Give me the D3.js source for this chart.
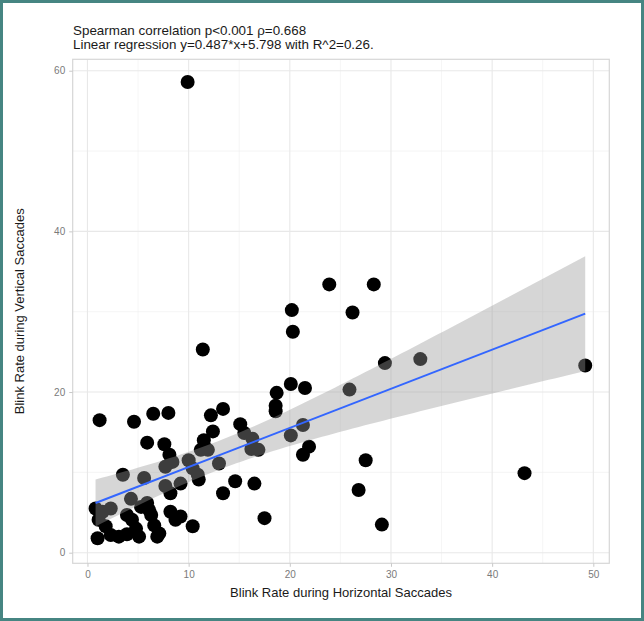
<!DOCTYPE html>
<html>
<head>
<meta charset="UTF-8">
<title>Blink rate scatter</title>
<script src="https://cdn.jsdelivr.net/npm/d3@7"></script>
<style>
  body { margin: 0; background: #fff; }
  text { font-family: "Liberation Sans", Arial, sans-serif; }
</style>
</head>
<body>
<script>

// blink rate per subject
var horizRate = [
  9.9, 23.9, 28.3, 20.2, 26.2, 20.3, 29.4, 32.9, 49.2, 20.1,
  21.5, 25.9, 18.7, 18.6, 18.6, 21.3, 20.1, 21.9, 21.3, 27.5,
  43.2, 16.5, 26.8, 17.5, 29.1, 14.6,
  12.2, 13.4, 12.4, 11.5, 15.1, 15.5, 16.3, 16.2, 16.9, 11.9,
  13.0, 11.2, 11.4, 10.9, 11.0, 13.4, 10.4,
  6.5, 8.0, 5.9, 7.6, 8.1, 8.4, 7.7, 10.0, 10.4, 5.6,
  9.2, 8.2, 5.9, 6.3, 8.2, 8.7, 9.2, 6.6, 6.9, 7.7,
  1.2, 4.6, 3.5, 4.3, 0.8, 2.3, 1.5, 5.3, 6.1, 3.9,
  4.4, 1.1, 1.8, 1.0, 2.3, 3.1, 3.9, 4.8, 5.1, 7.1
];
var vertRate = [
  58.6, 33.4, 33.4, 30.2, 29.9, 27.5, 23.6, 24.1, 23.3, 21.0,
  20.5, 20.3, 19.9, 18.3, 17.6, 15.9, 14.6, 13.2, 12.2, 11.5,
  9.9, 8.6, 7.8, 4.3, 3.5, 8.9,
  17.1, 17.9, 15.1, 14.0, 16.0, 14.9, 14.2, 12.9, 12.8, 12.8,
  11.1, 12.8, 25.3, 9.7, 9.1, 7.4, 3.3,
  17.3, 17.4, 13.7, 13.5, 12.2, 11.3, 10.7, 11.5, 10.5, 9.3,
  8.6, 7.4, 6.2, 4.7, 5.1, 4.1, 4.5, 3.4, 2.0, 8.3,
  16.5, 16.3, 9.7, 6.7, 5.5, 5.5, 5.1, 5.7, 5.3, 4.7,
  4.1, 4.1, 3.3, 1.8, 2.2, 2.0, 2.3, 3.0, 2.0, 2.4
];

var xTicks = [0, 10, 20, 30, 40, 50];
var yTicks = [0, 20, 40, 60];
var xMinor = [5, 15, 25, 35, 45];
var yMinor = [10, 30, 50];

var slope = 0.487, intercept = 5.798;
var titleLines = [
  "Spearman correlation p<0.001 \u03c1=0.668",
  "Linear regression y=0.487*x+5.798 with R^2=0.26."
];
var xTitle = "Blink Rate during Horizontal Saccades";
var yTitle = "Blink Rate during Vertical Saccades";

var W = 644, H = 621;
var panel = {left: 72.7, right: 609.3, top: 59.3, bottom: 563.3};

var svg = d3.select("body").append("svg")
  .attr("width", W)
  .attr("height", H);

svg.append("rect")
  .attr("x", 0).attr("y", 0)
  .attr("width", W).attr("height", H)
  .attr("fill", "#fff");

var x = d3.scaleLinear().domain([-1.46, 51.58]).range([panel.left, panel.right]);
var y = d3.scaleLinear().domain([-1.32, 61.42]).range([panel.bottom, panel.top]);

// grid
var grid = svg.append("g");
grid.selectAll(".xminor").data(xMinor).enter().append("line")
  .attr("x1", x).attr("x2", x)
  .attr("y1", panel.top).attr("y2", panel.bottom)
  .attr("stroke", "#efefef").attr("stroke-width", 0.6);
grid.selectAll(".yminor").data(yMinor).enter().append("line")
  .attr("y1", y).attr("y2", y)
  .attr("x1", panel.left).attr("x2", panel.right)
  .attr("stroke", "#efefef").attr("stroke-width", 0.6);
grid.selectAll(".xmajor").data(xTicks).enter().append("line")
  .attr("x1", x).attr("x2", x)
  .attr("y1", panel.top).attr("y2", panel.bottom)
  .attr("stroke", "#e8e8e8").attr("stroke-width", 1.1);
grid.selectAll(".ymajor").data(yTicks).enter().append("line")
  .attr("y1", y).attr("y2", y)
  .attr("x1", panel.left).attr("x2", panel.right)
  .attr("stroke", "#e8e8e8").attr("stroke-width", 1.1);

// points
var pts = horizRate.map(function(d, i) { return [d, vertRate[i]]; });
svg.append("g").selectAll("circle")
  .data(pts).enter().append("circle")
  .attr("cx", function(d) { return x(d[0]); })
  .attr("cy", function(d) { return y(d[1]); })
  .attr("r", 7)
  .attr("fill", "#000");

// confidence band of the linear fit (95%)
var n = pts.length;
var xbar = d3.mean(horizRate);
var sxx = d3.sum(horizRate, function(v) { return (v - xbar) * (v - xbar); });
var sse = d3.sum(pts, function(d) {
  var r = d[1] - (intercept + slope * d[0]);
  return r * r;
});
var s = Math.sqrt(sse / (n - 2));
var tq = 1.99;
var x0 = d3.min(horizRate), x1 = d3.max(horizRate);
var bandX = d3.range(0, 81).map(function(i) { return x0 + (x1 - x0) * i / 80; });
var band = bandX.map(function(v) {
  var fit = intercept + slope * v;
  var h = tq * s * Math.sqrt(1 / n + (v - xbar) * (v - xbar) / sxx);
  return {x: v, lo: fit - h, hi: fit + h};
});

svg.append("path")
  .datum(band)
  .attr("d", d3.area()
    .x(function(d) { return x(d.x); })
    .y0(function(d) { return y(d.lo); })
    .y1(function(d) { return y(d.hi); }))
  .attr("fill", "#999")
  .attr("fill-opacity", 0.4);

svg.append("line")
  .attr("x1", x(x0)).attr("y1", y(intercept + slope * x0))
  .attr("x2", x(x1)).attr("y2", y(intercept + slope * x1))
  .attr("stroke", "#3366FF")
  .attr("stroke-width", 2);

// panel border
svg.append("rect")
  .attr("x", panel.left).attr("y", panel.top)
  .attr("width", panel.right - panel.left)
  .attr("height", panel.bottom - panel.top)
  .attr("fill", "none")
  .attr("stroke", "#d6d6d6")
  .attr("stroke-width", 1.2);

// axes
var xAxis = svg.append("g")
  .attr("transform", "translate(0," + panel.bottom + ")")
  .call(d3.axisBottom(x).tickValues(xTicks).tickSize(3.5).tickPadding(4));
var yAxis = svg.append("g")
  .attr("transform", "translate(" + panel.left + ",0)")
  .call(d3.axisLeft(y).tickValues(yTicks).tickSize(3.5).tickPadding(4));
[xAxis, yAxis].forEach(function(a) {
  a.select(".domain").remove();
  a.selectAll(".tick line").attr("stroke", "#c8c8c8");
  a.selectAll(".tick text")
    .attr("fill", "#7a7a7a")
    .style("font-size", "10px")
    .style("font-family", "Liberation Sans, Arial, sans-serif");
});

// titles
svg.selectAll(".title").data(titleLines).enter().append("text")
  .attr("x", 73)
  .attr("y", function(d, i) { return 34.5 + i * 14.5; })
  .attr("fill", "#1a1a1a")
  .style("font-size", "13.4px")
  .text(function(d) { return d; });

svg.append("text")
  .attr("x", (panel.left + panel.right) / 2)
  .attr("y", 597)
  .attr("text-anchor", "middle")
  .attr("fill", "#1a1a1a")
  .style("font-size", "13px")
  .text(xTitle);

svg.append("text")
  .attr("transform", "translate(24," + ((panel.top + panel.bottom) / 2) + ") rotate(-90)")
  .attr("text-anchor", "middle")
  .attr("fill", "#1a1a1a")
  .style("font-size", "13px")
  .text(yTitle);

// outer frame
svg.append("rect")
  .attr("x", 1.5).attr("y", 1.5)
  .attr("width", W - 3).attr("height", H - 3)
  .attr("fill", "none")
  .attr("stroke", "#468582")
  .attr("stroke-width", 3);

</script>
</body>
</html>
